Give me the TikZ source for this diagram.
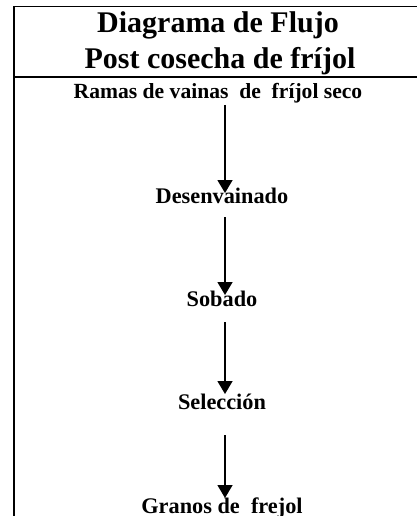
\documentclass[tikz,border=0pt]{standalone}
\usepackage{fontspec}
\setmainfont{Liberation Serif}
\usetikzlibrary{arrows.meta}
\tikzset{
  frameline/.style={line width=1.5pt, line cap=rect},
  ttl/.style={anchor=base, inner sep=0pt, font=\fontsize{30}{36}\selectfont\bfseries},
  lbl/.style={anchor=base, inner sep=0pt, font=\fontsize{22.3}{26}\selectfont\bfseries},
  flow/.style={line width=1.5pt, -{Triangle[width=15pt,length=13pt]}}
}
\begin{document}
\begin{tikzpicture}[x=1pt,y=-1pt]
\useasboundingbox (0,0) rectangle (417,516);
% frame
\coordinate (tl) at (14,6.5);
\coordinate (tr) at (420,6.5);
\coordinate (ml) at (14,77);
\coordinate (mr) at (420,77);
\coordinate (bl) at (14,520);
\draw[frameline] (tr) -- (tl) -- (bl);
\draw[frameline] (ml) -- (mr);
% titles
\node[ttl] (t1) at (218,33) {Diagrama de Flujo};
\node[ttl] (t2) at (220,69) {Post cosecha de fríjol};
% steps
\node[lbl, font=\fontsize{21.6}{26}\selectfont\bfseries] (s0) at (218,99) {Ramas de vainas\ \ de\ \ fríjol seco};
\node[lbl] (s1) at (222,203) {Desenvainado};
\node[lbl] (s2) at (222,306) {Sobado};
\node[lbl] (s3) at (222,409) {Selección};
\node[lbl] (s4) at (222,513) {Granos de\ \ frejol};
% arrow ends
\coordinate (a1s) at (225,105);
\coordinate (a1e) at (225,193);
\coordinate (a2s) at (225,217);
\coordinate (a2e) at (225,295);
\coordinate (a3s) at (225,322);
\coordinate (a3e) at (225,394);
\coordinate (a4s) at (225,435);
\coordinate (a4e) at (225,498);
\draw[flow] (a1s) -- (a1e);
\draw[flow] (a2s) -- (a2e);
\draw[flow] (a3s) -- (a3e);
\draw[flow] (a4s) -- (a4e);
\end{tikzpicture}
\end{document}
